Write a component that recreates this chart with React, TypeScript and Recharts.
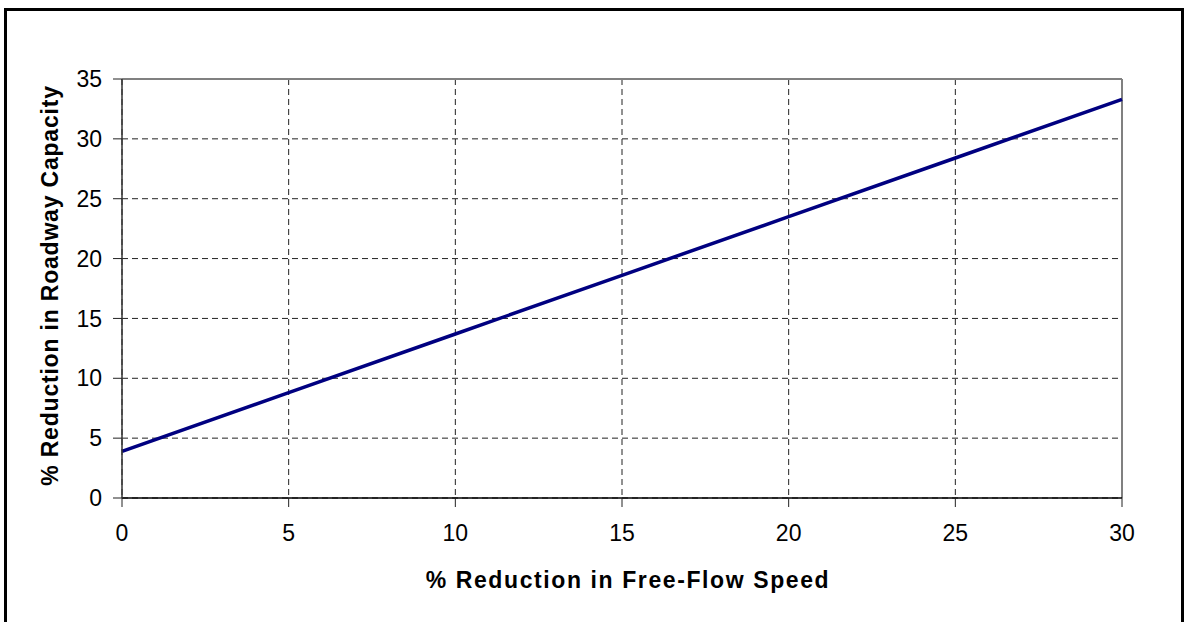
import {
  LineChart,
  Line,
  XAxis,
  YAxis,
  CartesianGrid,
  ReferenceLine,
  Label,
} from 'recharts'

const speedReduction = [0, 5, 10, 15, 20, 25, 30]
const capacityReduction = [3.9, 8.8, 13.7, 18.6, 23.5, 28.4, 33.3]
const xTicks = [0, 5, 10, 15, 20, 25, 30]
const yTicks = [0, 5, 10, 15, 20, 25, 30, 35]

const xTitle = '% Reduction in Free-Flow Speed'
const yTitle = '% Reduction in Roadway Capacity'

const data = speedReduction.map((x, i) => ({ x, y: capacityReduction[i] }))

const FONT = '"Liberation Sans", Arial, sans-serif'
const LINE_COLOR = '#000080'

function XTitle({ viewBox }: any) {
  const cx = viewBox.x + viewBox.width / 2 + 6
  return (
    <text x={cx} y={viewBox.y + 90} textAnchor="middle" fontFamily={FONT} fontSize={23} fontWeight="bold" letterSpacing={1.6} fill="#000">
      {xTitle}
    </text>
  )
}

function YTitle({ viewBox }: any) {
  const cy = viewBox.y + viewBox.height / 2 - 3
  const x = 58
  return (
    <text x={x} y={cy} textAnchor="middle" fontFamily={FONT} fontSize={23} fontWeight="bold" letterSpacing={0.8} fill="#000" transform={`rotate(-90 ${x} ${cy})`}>
      {yTitle}
    </text>
  )
}

export default function App() {
  const tickStyle = { fontSize: 23, fill: '#000', fontFamily: FONT }
  return (
    <div style={{ position: 'absolute', left: 0, top: 0, width: 1184, height: 622, overflow: 'hidden', background: '#fff' }}>
      <div
        style={{
          position: 'absolute',
          left: 4,
          top: 8,
          width: 1174,
          height: 700,
          border: '3px solid #000',
        }}
      />
      <div style={{ position: 'absolute', left: 0, top: 0 }}>
        <LineChart width={1184} height={622} data={data} margin={{ top: 79, right: 62, left: 0, bottom: 0 }}>
          <CartesianGrid stroke="#222" strokeDasharray="6 4" strokeWidth={1} />
          <XAxis
            dataKey="x"
            type="number"
            domain={[0, 30]}
            ticks={xTicks}
            interval={0}
            height={124}
            tick={tickStyle}
            tickSize={9}
            tickMargin={18}
            axisLine={{ stroke: '#000', strokeWidth: 1.5 }}
            tickLine={{ stroke: '#222', strokeWidth: 1 }}
          >
            <Label content={<XTitle />} />
          </XAxis>
          <YAxis
            type="number"
            domain={[0, 35]}
            ticks={yTicks}
            interval={0}
            width={122}
            tick={tickStyle}
            tickSize={9}
            tickMargin={11}
            axisLine={{ stroke: '#333', strokeWidth: 1.5 }}
            tickLine={{ stroke: '#222', strokeWidth: 1 }}
          >
            <Label content={<YTitle />} />
          </YAxis>
          <ReferenceLine y={35} stroke="#808080" strokeWidth={2} />
          <ReferenceLine x={30} stroke="#808080" strokeWidth={2} />
          <Line
            type="linear"
            dataKey="y"
            stroke={LINE_COLOR}
            strokeWidth={3.5}
            dot={false}
            activeDot={false}
            isAnimationActive={false}
          />
        </LineChart>
      </div>
    </div>
  )
}
